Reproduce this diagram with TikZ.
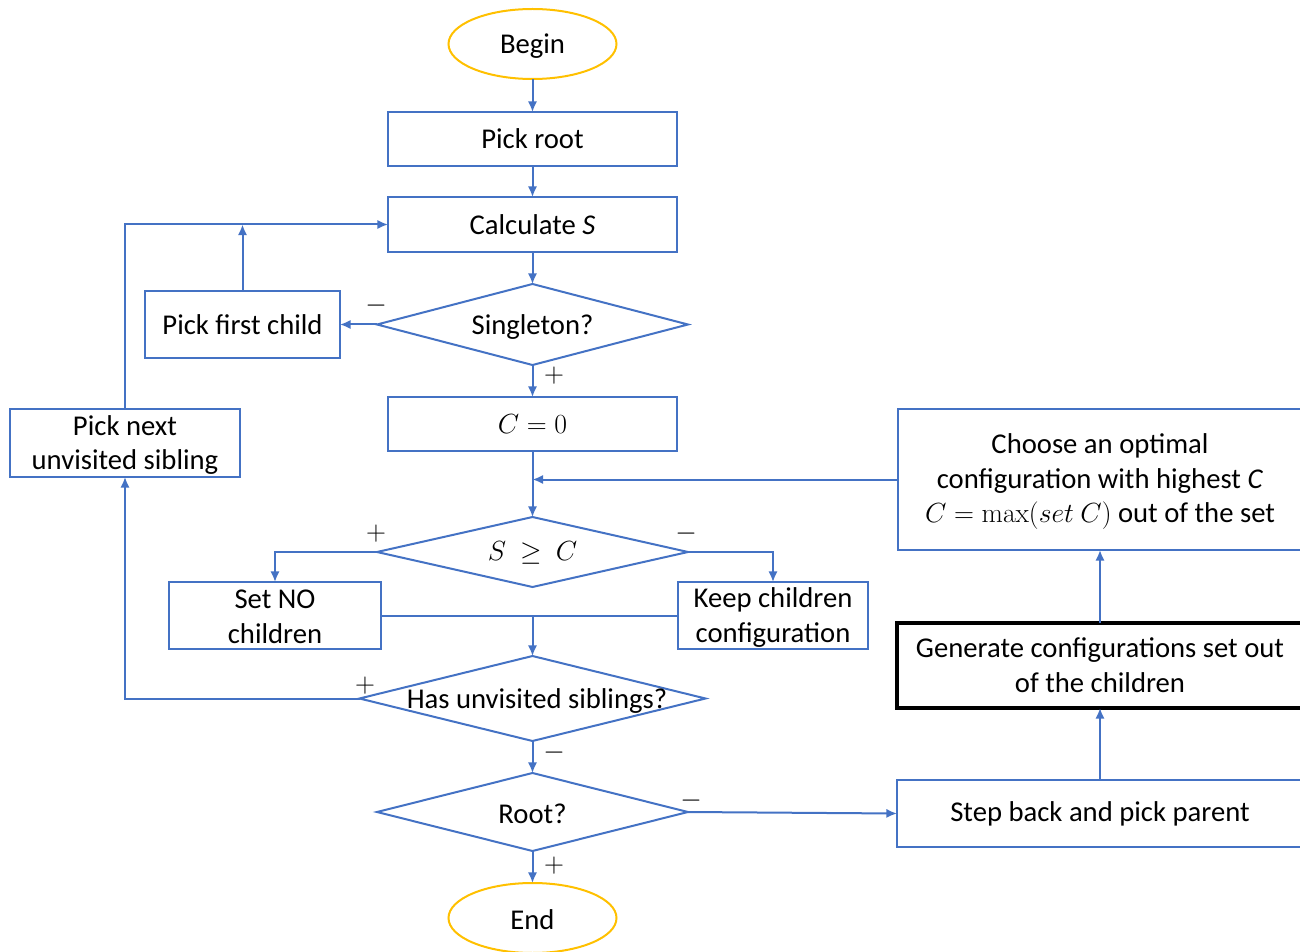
\documentclass[tikz,border=0pt]{standalone}
\usepackage[no-math]{fontspec}
\setmainfont{Carlito}
\usetikzlibrary{shapes.geometric,arrows.meta}
\definecolor{flowblue}{HTML}{4472C4}
\definecolor{flowgold}{HTML}{FFC000}
\tikzset{
  sz/.style 2 args={minimum width=#1*0.75pt, minimum height=#2*0.75pt},
  procbox/.style={draw=flowblue, line width=1.5pt, rectangle, inner sep=0pt, outer sep=0pt, align=center, text=black},
  heavybox/.style={draw=black, line width=3.2pt, rectangle, inner sep=0pt, outer sep=0pt, align=center, text=black},
  decision/.style={draw=flowblue, line width=1.5pt, diamond, inner sep=0pt, outer sep=0pt},
  terminal/.style={draw=flowgold, line width=1.5pt, ellipse, inner sep=0pt, outer sep=0pt},
  flow/.style={draw=flowblue, line width=1.5pt, -{Latex[length=8pt,width=7pt]}},
  flowplain/.style={draw=flowblue, line width=1.5pt},
  sign/.style={inner sep=0pt, text=black},
}
\begin{document}
\begin{tikzpicture}[x=0.75pt,y=-0.75pt,
  every node/.append style={font=\fontsize{21.5}{26}\selectfont}]
\useasboundingbox (0,0) rectangle (1300,952);

% start / end
\node[terminal, sz={168}{70}] (begin) at (532.5,44) {};
\node[sign] (begint) at (532.5,46) {Begin};
\node[terminal, sz={168}{70}] (end) at (532.5,918) {};
\node[sign] (endt) at (532.5,920) {End};

% main column
\node[procbox, sz={289}{54}] (pickroot) at (532.5,139) {Pick root};
\node[procbox, sz={289}{55}] (calc) at (532.5,224.5) {Calculate \textit{S}};
\node[decision, sz={311}{81}] (single) at (532.5,324.5) {};
\node[sign] (singlet) at (532.5,327) {Singleton?};
\node[procbox, sz={289}{54}] (czero) at (532.5,424) {$C=0$};
\node[decision, sz={311}{70}] (cmp) at (532.5,552) {};
\node[sign] (cmpt) at (532.5,553) {$S\ \geq\ C$};
\node[decision, sz={346}{85}] (hasunv) at (532.5,698.5) {};
\node[sign] (hasunvt) at (537,701) {Has unvisited siblings?};
\node[decision, sz={311}{78}] (isroot) at (532.5,812) {};
\node[sign] (isroott) at (532.5,814) {Root?};

% left side
\node[procbox, sz={195}{67}] (firstchild) at (242.5,324.5) {Pick first child};
\node[procbox, sz={230}{68}] (nextsib) at (125,443) {};
\node[sign, align=center] (nextsibt) at (125,445) {Pick next\\unvisited sibling};
\node[procbox, sz={212}{67}] (setno) at (275,615.5) {};
\node[sign, align=center] (setnot) at (275,617) {Set NO\\children};
\node[procbox, sz={190}{67}] (keep) at (773,615.5) {};
\node[sign, align=center] (keept) at (773,617.5) {Keep children\\configuration};

% right side
\node[procbox, sz={404}{141}] (choose) at (1100,479.5) {};
\node[sign, align=center] (chooset) at (1100,481.5)
  {Choose an optimal\\configuration with highest \textit{C}\\$C=\max(set\ C)$ out of the set};
\node[heavybox, sz={406}{85}] (generate) at (1100,665.5)
  {Generate configurations set out\\of the children};
\node[procbox, sz={406}{67}] (stepback) at (1100,813.5) {Step back and pick parent};

% connectors
\draw[flow] (begin) -- (pickroot);
\draw[flow] (pickroot) -- (calc);
\draw[flow] (calc) -- (single);
\draw[flow] (single.west) -- (firstchild.east);
\draw[flow] (firstchild.north) -- (firstchild.north |- calc.west);
\draw[flow] (nextsib.north) |- (calc.west);
\draw[flow] (single) -- (czero);
\draw[flow] (czero) -- (cmp);
\draw[flow] (choose.west) -- (choose.west -| czero.south);
\draw[flow] (cmp.west) -| (setno.north);
\draw[flow] (cmp.east) -| (keep.north);
\coordinate (merge) at (setno.east -| hasunv.north);
\draw[flowplain] (setno.east) -- (keep.west);
\draw[flow] (merge) -- (hasunv.north);
\draw[flow] (hasunv.west) -| (nextsib.south);
\draw[flow] (hasunv) -- (isroot);
\draw[flow] (isroot.east) -- (stepback.west);
\draw[flow] (isroot) -- (end);
\draw[flow] (stepback) -- (generate);
\draw[flow] (generate) -- (choose);

% branch signs
\node[sign] (s1) at (376,306) {$-$};
\node[sign] (s2) at (554,376) {$+$};
\node[sign] (s3) at (376,534) {$+$};
\node[sign] (s4) at (686,534) {$-$};
\node[sign] (s5) at (365,686) {$+$};
\node[sign] (s6) at (554,753) {$-$};
\node[sign] (s7) at (691,801) {$-$};
\node[sign] (s8) at (554,866) {$+$};
\end{tikzpicture}
\end{document}
